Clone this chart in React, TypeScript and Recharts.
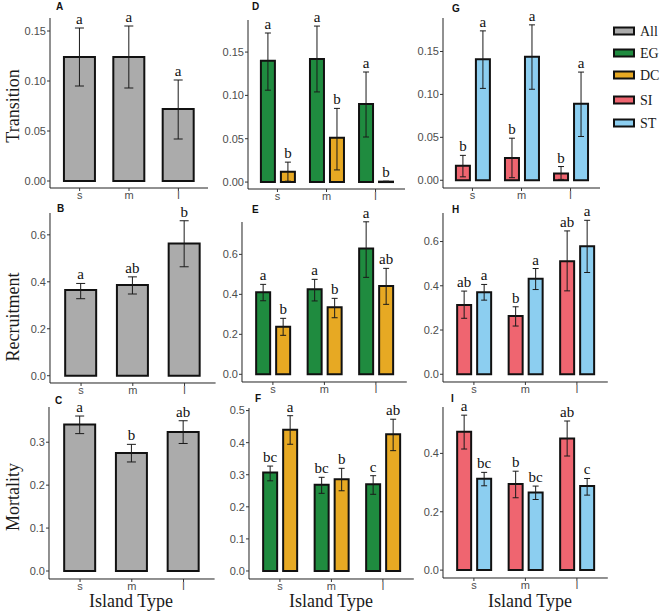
import React from 'react';
import { BarChart, Bar, XAxis, YAxis, ErrorBar, LabelList } from 'recharts';

const categories = ['s', 'm', 'l'];

// Transition
const transAll = [0.124, 0.124, 0.072];
const transAllLo = [0.095, 0.093, 0.042];
const transAllHi = [0.153, 0.155, 0.101];
const transAllSig = ['a', 'a', 'a'];
const transEG = [0.14, 0.142, 0.09];
const transEGLo = [0.106, 0.104, 0.052];
const transEGHi = [0.172, 0.18, 0.127];
const transEGSig = ['a', 'a', 'a'];
const transDC = [0.012, 0.051, 0.0005];
const transDCLo = [0.001, 0.014, 0];
const transDCHi = [0.023, 0.085, 0.001];
const transDCSig = ['b', 'b', 'b'];
const transSI = [0.017, 0.026, 0.008];
const transSILo = [0.004, 0.003, 0.001];
const transSIHi = [0.029, 0.049, 0.016];
const transSISig = ['b', 'b', 'b'];
const transST = [0.141, 0.144, 0.089];
const transSTLo = [0.107, 0.106, 0.051];
const transSTHi = [0.174, 0.181, 0.126];
const transSTSig = ['a', 'a', 'a'];

// Recruitment
const recAll = [0.365, 0.386, 0.563];
const recAllLo = [0.328, 0.348, 0.464];
const recAllHi = [0.393, 0.421, 0.66];
const recAllSig = ['a', 'ab', 'b'];
const recEG = [0.41, 0.425, 0.63];
const recEGLo = [0.368, 0.367, 0.485];
const recEGHi = [0.45, 0.475, 0.763];
const recEGSig = ['a', 'a', 'a'];
const recDC = [0.238, 0.335, 0.442];
const recDCLo = [0.195, 0.283, 0.35];
const recDCHi = [0.28, 0.38, 0.53];
const recDCSig = ['b', 'b', 'ab'];
const recSI = [0.313, 0.263, 0.511];
const recSILo = [0.253, 0.218, 0.377];
const recSIHi = [0.376, 0.305, 0.648];
const recSISig = ['ab', 'b', 'ab'];
const recST = [0.371, 0.432, 0.579];
const recSTLo = [0.335, 0.383, 0.46];
const recSTHi = [0.406, 0.478, 0.696];
const recSTSig = ['a', 'a', 'a'];

// Mortality
const morAll = [0.341, 0.275, 0.324];
const morAllLo = [0.32, 0.254, 0.297];
const morAllHi = [0.361, 0.295, 0.35];
const morAllSig = ['a', 'b', 'ab'];
const morEG = [0.307, 0.269, 0.27];
const morEGLo = [0.281, 0.242, 0.239];
const morEGHi = [0.327, 0.292, 0.297];
const morEGSig = ['bc', 'bc', 'c'];
const morDC = [0.44, 0.286, 0.426];
const morDCLo = [0.395, 0.25, 0.375];
const morDCHi = [0.484, 0.32, 0.473];
const morDCSig = ['a', 'b', 'ab'];
const morSI = [0.474, 0.295, 0.451];
const morSILo = [0.415, 0.248, 0.391];
const morSIHi = [0.531, 0.339, 0.511];
const morSISig = ['a', 'b', 'ab'];
const morST = [0.313, 0.266, 0.288];
const morSTLo = [0.289, 0.242, 0.257];
const morSTHi = [0.335, 0.288, 0.314];
const morSTSig = ['bc', 'bc', 'c'];

const groupNames = ['All', 'EG', 'DC', 'SI', 'ST'];
const groupColors = ['#ABABAB', '#1F8B3F', '#E7A923', '#EF6570', '#8CCEF0'];

const serif = '"Liberation Serif", "Times New Roman", serif';
const sans = '"Liberation Sans", Arial, sans-serif';

type Series = { key: string; mean: number[]; lo: number[]; hi: number[]; sig: string[] };
type Panel = {
  tag: string;
  tagX: number;
  tagY: number;
  axisX: number;
  plotRight: number;
  plotTop: number;
  plotBottom: number;
  domain: [number, number];
  ticks: number[];
  digits: number;
  series: Series[];
};

const colorOf = (key: string) => groupColors[groupNames.indexOf(key)];

const buildRows = (series: Series[]) =>
  categories.map((cat, i) => {
    const row: Record<string, any> = { cat };
    series.forEach((s) => {
      row[s.key] = s.mean[i];
      row[s.key + 'Err'] = [s.mean[i] - s.lo[i], s.hi[i] - s.mean[i]];
      row[s.key + 'Pad'] = s.hi[i] - s.mean[i];
      row[s.key + 'Sig'] = s.sig[i];
    });
    return row;
  });

const panels: Panel[] = [
  {
    tag: 'A', tagX: 56, tagY: 10, axisX: 50, plotRight: 208, plotTop: 18, plotBottom: 188,
    domain: [-0.007, 0.163], ticks: [0, 0.05, 0.1, 0.15], digits: 2,
    series: [{ key: 'All', mean: transAll, lo: transAllLo, hi: transAllHi, sig: transAllSig }],
  },
  {
    tag: 'D', tagX: 252, tagY: 10, axisX: 248, plotRight: 405, plotTop: 20, plotBottom: 189,
    domain: [-0.008, 0.187], ticks: [0, 0.05, 0.1, 0.15], digits: 2,
    series: [
      { key: 'EG', mean: transEG, lo: transEGLo, hi: transEGHi, sig: transEGSig },
      { key: 'DC', mean: transDC, lo: transDCLo, hi: transDCHi, sig: transDCSig },
    ],
  },
  {
    tag: 'G', tagX: 452, tagY: 12, axisX: 443, plotRight: 600, plotTop: 18, plotBottom: 188,
    domain: [-0.009, 0.189], ticks: [0, 0.05, 0.1, 0.15], digits: 2,
    series: [
      { key: 'SI', mean: transSI, lo: transSILo, hi: transSIHi, sig: transSISig },
      { key: 'ST', mean: transST, lo: transSTLo, hi: transSTHi, sig: transSTSig },
    ],
  },
  {
    tag: 'B', tagX: 57, tagY: 212, axisX: 50, plotRight: 215.6, plotTop: 213, plotBottom: 383,
    domain: [-0.031, 0.693], ticks: [0, 0.2, 0.4, 0.6], digits: 1,
    series: [{ key: 'All', mean: recAll, lo: recAllLo, hi: recAllHi, sig: recAllSig }],
  },
  {
    tag: 'E', tagX: 252, tagY: 213, axisX: 242, plotRight: 406.8, plotTop: 222, plotBottom: 382,
    domain: [-0.0385, 0.762], ticks: [0, 0.2, 0.4, 0.6], digits: 1,
    series: [
      { key: 'EG', mean: recEG, lo: recEGLo, hi: recEGHi, sig: recEGSig },
      { key: 'DC', mean: recDC, lo: recDCLo, hi: recDCHi, sig: recDCSig },
    ],
  },
  {
    tag: 'H', tagX: 452, tagY: 213, axisX: 443, plotRight: 607.8, plotTop: 213, plotBottom: 382,
    domain: [-0.035, 0.729], ticks: [0, 0.2, 0.4, 0.6], digits: 1,
    series: [
      { key: 'SI', mean: recSI, lo: recSILo, hi: recSIHi, sig: recSISig },
      { key: 'ST', mean: recST, lo: recSTLo, hi: recSTHi, sig: recSTSig },
    ],
  },
  {
    tag: 'C', tagX: 55, tagY: 404, axisX: 49, plotRight: 214.6, plotTop: 407, plotBottom: 579,
    domain: [-0.0186, 0.382], ticks: [0, 0.1, 0.2, 0.3], digits: 1,
    series: [{ key: 'All', mean: morAll, lo: morAllLo, hi: morAllHi, sig: morAllSig }],
  },
  {
    tag: 'F', tagX: 255, tagY: 402, axisX: 249, plotRight: 413.8, plotTop: 408, plotBottom: 579,
    domain: [-0.025, 0.508], ticks: [0, 0.1, 0.2, 0.3, 0.4, 0.5], digits: 1,
    series: [
      { key: 'EG', mean: morEG, lo: morEGLo, hi: morEGHi, sig: morEGSig },
      { key: 'DC', mean: morDC, lo: morDCLo, hi: morDCHi, sig: morDCSig },
    ],
  },
  {
    tag: 'I', tagX: 451, tagY: 402, axisX: 443, plotRight: 607.8, plotTop: 407, plotBottom: 578,
    domain: [-0.027, 0.559], ticks: [0, 0.2, 0.4], digits: 1,
    series: [
      { key: 'SI', mean: morSI, lo: morSILo, hi: morSIHi, sig: morSISig },
      { key: 'ST', mean: morST, lo: morSTLo, hi: morSTHi, sig: morSTSig },
    ],
  },
];

const yTitles = [
  { text: 'Transition', y: 106 },
  { text: 'Recruitment', y: 317 },
  { text: 'Mortality', y: 497 },
];
const xTitleCenters = [131, 331, 530];
const legendRows = [31, 53, 75, 100, 123];

const tickStyle = { fill: '#4D4D4D', fontSize: 11, fontFamily: sans };

function PanelChart({ p }: { p: Panel }) {
  const left = p.axisX - 45;
  const top = p.plotTop - 26;
  const width = p.plotRight - left + 6;
  const height = p.plotBottom - top + 24;
  const spacing = (p.plotRight - p.axisX) / 3.2;
  const pad = spacing * 0.1;
  const paired = p.series.length > 1;
  const rows = buildRows(p.series);

  return (
    <div style={{ position: 'absolute', left, top }}>
      <BarChart
        width={width}
        height={height}
        data={rows}
        margin={{ top: 26, right: 6, bottom: 0, left: 0 }}
        barSize={paired ? 14 : 31}
        barGap={6}
      >
        <XAxis
          dataKey="cat"
          type="category"
          padding={{ left: pad, right: pad }}
          height={24}
          interval={0}
          tickSize={3}
          tickMargin={0}
          tick={tickStyle}
          axisLine={{ stroke: '#222', strokeWidth: 1 }}
          tickLine={{ stroke: '#333' }}
        />
        <YAxis
          type="number"
          domain={p.domain}
          allowDataOverflow
          ticks={p.ticks}
          interval={0}
          width={45}
          tickSize={3}
          tickMargin={1}
          tickFormatter={(v: number) => v.toFixed(p.digits)}
          tick={tickStyle}
          axisLine={{ stroke: '#222', strokeWidth: 1 }}
          tickLine={{ stroke: '#333' }}
        />
        {p.series.map((s) => (
          <React.Fragment key={s.key}>
            <Bar
              dataKey={s.key}
              stackId={s.key}
              fill={colorOf(s.key)}
              stroke="#111"
              strokeWidth={2}
              isAnimationActive={false}
            >
              <ErrorBar
                dataKey={s.key + 'Err'}
                direction="y"
                width={paired ? 3 : 4.5}
                stroke="#1a1a1a"
                strokeWidth={1}
              />
            </Bar>
            <Bar
              dataKey={s.key + 'Pad'}
              stackId={s.key}
              fill="none"
              stroke="none"
              isAnimationActive={false}
            >
              <LabelList
                dataKey={s.key + 'Sig'}
                position="top"
                offset={4}
                fill="#111"
                fontSize={15}
                fontFamily={serif}
              />
            </Bar>
          </React.Fragment>
        ))}
      </BarChart>
    </div>
  );
}

export default function App() {
  return (
    <div style={{ position: 'absolute', left: 0, top: 0, width: 661, height: 616, background: '#fff' }}>
      {panels.map((p) => (
        <PanelChart key={p.tag} p={p} />
      ))}
      <svg width={661} height={616} style={{ position: 'absolute', left: 0, top: 0, pointerEvents: 'none' }}>
        {panels.map((p) => (
          <text key={p.tag} x={p.tagX} y={p.tagY} fontFamily={sans} fontWeight="bold" fontSize={10} fill="#111">
            {p.tag}
          </text>
        ))}
        {yTitles.map((t) => (
          <text
            key={t.text}
            x={19}
            y={t.y}
            transform={`rotate(-90 19 ${t.y})`}
            textAnchor="middle"
            fontFamily={serif}
            fontSize={18}
            fill="#1a1a1a"
          >
            {t.text}
          </text>
        ))}
        {xTitleCenters.map((cx) => (
          <text key={cx} x={cx} y={607} textAnchor="middle" fontFamily={serif} fontSize={18} fill="#1a1a1a">
            Island Type
          </text>
        ))}
        {groupNames.map((name, i) => (
          <g key={name}>
            <rect x={614} y={legendRows[i] - 3.5} width={20} height={7} fill={groupColors[i]} stroke="#111" strokeWidth={2} />
            <text x={640} y={legendRows[i] + 4.5} fontFamily={serif} fontSize={14} fill="#1a1a1a">
              {name}
            </text>
          </g>
        ))}
      </svg>
    </div>
  );
}
